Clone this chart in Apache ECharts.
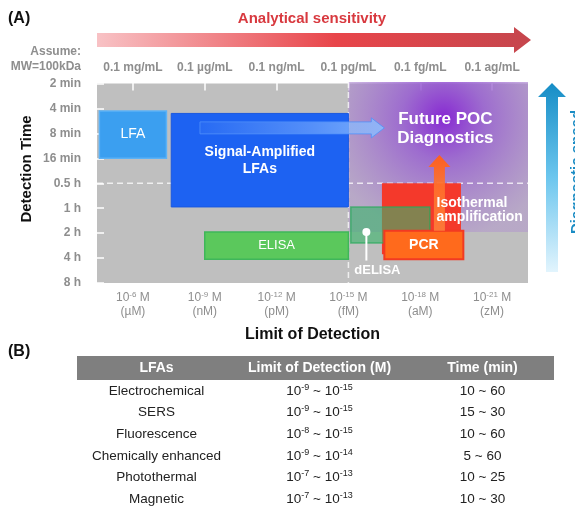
<!DOCTYPE html>
<html>
<head>
<meta charset="utf-8">
<script src="https://cdn.jsdelivr.net/npm/echarts@6/dist/echarts.min.js"></script>
<style>
  html, body { margin: 0; padding: 0; background: #fff; }
  #main { width: 575px; height: 510px; }
</style>
</head>
<body>
<div id="main"></div>
<script>
// x = limit of detection as -log10(M), y = detection time step (0 = 2 min ... 8 = 8 h)
var lodTicks = [6, 9, 12, 15, 18, 21];
var lodUnits = ['µM', 'nM', 'pM', 'fM', 'aM', 'zM'];
var massLabels = ['0.1 mg/mL', '0.1 µg/mL', '0.1 ng/mL', '0.1 pg/mL', '0.1 fg/mL', '0.1 ag/mL'];
var timeLabels = ['2 min', '4 min', '8 min', '16 min', '0.5 h', '1 h', '2 h', '4 h', '8 h'];

var methods  = ['LFA', 'Signal-Amplified LFAs', 'ELISA', 'Isothermal amplification', 'dELISA', 'PCR'];
var lodFrom  = [4.6, 7.6, 9.0, 16.4, 15.1, 16.5];
var lodTo    = [7.4, 15.0, 15.0, 19.7, 18.4, 19.8];
var timeFrom = [1.1, 1.2, 5.95, 4.0, 4.95, 5.9];
var timeTo   = [3.0, 4.95, 7.05, 6.85, 6.4, 7.05];

// future POC zone, guide lines and trend arrows
var pocLod = [15, 22.5];
var pocTime = [0, 5.95];
var guideLod = 15;
var guideTime = 4;
var ampArrowLod = [8.8, 16.5];
var ampArrowTime = 1.78;
var isoArrowLod = 18.8;
var isoArrowTime = [5.9, 2.87];
var delisaPin = [15.75, 5.95, 7.1];

// table (B)
var tableHeader = ['LFAs', 'Limit of Detection (M)', 'Time (min)'];
var lfaTypes = ['Electrochemical', 'SERS', 'Fluorescence', 'Chemically enhanced', 'Photothermal', 'Magnetic'];
var lodHigh = [9, 9, 8, 9, 7, 7];
var lodLow  = [15, 15, 15, 14, 13, 13];
var timeMin = [10, 15, 10, 5, 10, 10];
var timeMax = [60, 30, 60, 60, 25, 30];

var FONT = '"Liberation Sans", Arial, sans-serif';
var GREY = '#8e8e8e';

// 方框样式
var boxStyle = {
  'LFA': { fill: '#3b9ff0', stroke: '#5cb2f6', lw: 1.5, text: 'LFA', weight: 'normal', size: 14 },
  'Signal-Amplified LFAs': { fill: '#1d62f2', stroke: '#1a58e0', lw: 1, text: 'Signal-Amplified\nLFAs', weight: 'bold', size: 14 },
  'ELISA': { fill: '#5bc85c', stroke: '#3fb65a', lw: 1.5, text: 'ELISA', weight: 'normal', size: 13 },
  'Isothermal amplification': { fill: '#f4392b', stroke: null, lw: 0, text: '', weight: 'bold', size: 14 },
  'dELISA': { fill: 'rgba(55,180,105,0.6)', stroke: 'rgba(40,170,90,0.7)', lw: 1.5, text: '', weight: 'bold', size: 13 },
  'PCR': { fill: '#ff6a1c', stroke: '#f23a22', lw: 2, text: 'PCR', weight: 'bold', size: 14 }
};

function renderBox(params, api) {
  var name = methods[params.dataIndex];
  var st = boxStyle[name];
  var p0 = api.coord([api.value(0), api.value(2)]);
  var p1 = api.coord([api.value(1), api.value(3)]);
  var kids = [{
    type: 'rect',
    shape: { x: p0[0], y: p0[1], width: p1[0] - p0[0], height: p1[1] - p0[1] },
    style: { fill: st.fill, stroke: st.stroke, lineWidth: st.lw }
  }];
  if (st.text) {
    kids.push({
      type: 'text', x: (p0[0] + p1[0]) / 2, y: (p0[1] + p1[1]) / 2,
      style: { text: st.text, fill: '#fff', fontSize: st.size, fontWeight: st.weight, fontFamily: FONT,
               align: 'center', verticalAlign: 'middle', lineHeight: 17 }
    });
  }
  return { type: 'group', children: kids };
}

function renderPoc(params, api) {
  var p0 = api.coord([pocLod[0], pocTime[0]]);
  var p1 = api.coord([pocLod[1], pocTime[1]]);
  return {
    type: 'rect',
    shape: { x: p0[0], y: p0[1] - 1.5, width: p1[0] - p0[0], height: p1[1] - p0[1] + 1.5 },
    style: {
      fill: {
        type: 'radial', x: 0.53, y: 0.24, r: 0.8,
        colorStops: [
          { offset: 0, color: 'rgba(135,40,210,1)' },
          { offset: 0.35, color: 'rgba(150,90,210,0.82)' },
          { offset: 1, color: 'rgba(178,150,205,0.55)' }
        ]
      }
    }
  };
}

function renderGuides(params, api) {
  var a = api.coord([guideLod, 0]), b = api.coord([guideLod, 8]);
  var c = api.coord([4.5, guideTime]), d = api.coord([22.5, guideTime]);
  var ls = { stroke: 'rgba(255,255,255,0.75)', lineWidth: 1.5, lineDash: [6, 4] };
  return { type: 'group', children: [
    { type: 'line', shape: { x1: a[0], y1: a[1] - 1.5, x2: b[0], y2: b[1] }, style: ls },
    { type: 'line', shape: { x1: c[0], y1: c[1], x2: d[0], y2: d[1] }, style: ls }
  ] };
}

function renderArrows(params, api) {
  // signal amplification arrow (horizontal)
  var s = api.coord([ampArrowLod[0], ampArrowTime]);
  var e = api.coord([ampArrowLod[1], ampArrowTime]);
  var hb = 6, hh = 10, hl = 13;
  var h1 = [
    [s[0], s[1] - hb], [e[0] - hl, e[1] - hb], [e[0] - hl, e[1] - hh], [e[0], e[1]],
    [e[0] - hl, e[1] + hh], [e[0] - hl, e[1] + hb], [s[0], s[1] + hb]
  ];
  // isothermal arrow (vertical)
  var b = api.coord([isoArrowLod, isoArrowTime[0]]);
  var t = api.coord([isoArrowLod, isoArrowTime[1]]);
  var vb = 5.5, vh = 11, vl = 12;
  var h2 = [
    [b[0] - vb, b[1]], [t[0] - vb, t[1] + vl], [t[0] - vh, t[1] + vl], [t[0], t[1]],
    [t[0] + vh, t[1] + vl], [t[0] + vb, t[1] + vl], [b[0] + vb, b[1]]
  ];
  return { type: 'group', children: [
    { type: 'polygon', shape: { points: h1 },
      style: { fill: new echarts.graphic.LinearGradient(0, 0, 1, 0, [
                 { offset: 0, color: 'rgba(130,180,255,0.1)' },
                 { offset: 0.6, color: 'rgba(130,180,255,0.55)' },
                 { offset: 1, color: 'rgba(140,190,255,0.85)' }]),
               stroke: 'rgba(80,145,250,0.8)', lineWidth: 1 } },
    { type: 'polygon', shape: { points: h2 },
      style: { fill: new echarts.graphic.LinearGradient(0, 0, 0, 1, [
                 { offset: 0, color: 'rgba(255,95,30,1)' },
                 { offset: 1, color: 'rgba(255,140,60,0.75)' }]) } }
  ] };
}

function renderNotes(params, api) {
  var poc = api.coord([19.05, 1.82]);
  var iso = api.coord([18.68, 5.07]);
  var pinTop = api.coord([delisaPin[0], delisaPin[1]]);
  var pinBot = api.coord([delisaPin[0], delisaPin[2]]);
  var white = '#fff';
  return { type: 'group', children: [
    { type: 'text', x: poc[0], y: poc[1],
      style: { text: 'Future POC\nDiagnostics', fill: white, fontSize: 17, fontWeight: 'bold', fontFamily: FONT,
               align: 'center', verticalAlign: 'middle', lineHeight: 19 } },
    { type: 'text', x: iso[0], y: iso[1],
      style: { text: 'Isothermal\namplification', fill: white, fontSize: 14, fontWeight: 'bold', fontFamily: FONT,
               align: 'left', verticalAlign: 'middle', lineHeight: 14 } },
    { type: 'line', shape: { x1: pinTop[0], y1: pinTop[1], x2: pinBot[0], y2: pinBot[1] },
      style: { stroke: white, lineWidth: 2 } },
    { type: 'circle', shape: { cx: pinTop[0], cy: pinTop[1], r: 4 }, style: { fill: white } },
    { type: 'text', x: pinBot[0] + 11, y: pinBot[1] + 10,
      style: { text: 'dELISA', fill: white, fontSize: 13, fontWeight: 'bold', fontFamily: FONT,
               align: 'center', verticalAlign: 'middle' } }
  ] };
}

function supText(base, exp) {
  return '{n|' + base + '}{s|-' + exp + '}';
}

function renderCell(params, api) {
  var c = api.value(0), r = api.value(1);
  var p = api.coord([c, r]);
  var txt;
  if (c === 0) txt = '{n|' + lfaTypes[r] + '}';
  else if (c === 1) txt = supText(10, lodHigh[r]) + '{n| ~ }' + supText(10, lodLow[r]);
  else txt = '{n|' + timeMin[r] + ' ~ ' + timeMax[r] + '}';
  return {
    type: 'text', x: p[0], y: p[1],
    style: {
      text: txt, align: 'center', verticalAlign: 'middle',
      rich: {
        n: { fontSize: 13.5, fill: '#222', fontFamily: FONT, lineHeight: 16 },
        s: { fontSize: 9, fill: '#222', fontFamily: FONT, lineHeight: 10, verticalAlign: 'top' }
      }
    }
  };
}

var boxData = methods.map(function (m, i) { return [lodFrom[i], lodTo[i], timeFrom[i], timeTo[i]]; });
var cellData = [];
lfaTypes.forEach(function (t, r) { for (var c = 0; c < 3; c++) cellData.push([c, r]); });

var chart = echarts.init(document.getElementById('main'), null, { renderer: 'canvas' });

var tickStyle = { show: true, inside: true, length: 7, lineStyle: { color: '#fff', width: 1.5 } };

var option = {
  animation: false,
  textStyle: { fontFamily: FONT },
  grid: [
    { left: 97, top: 83.5, width: 431, height: 199.5, show: true, backgroundColor: '#bfbfbf', borderWidth: 0 },
    { left: 75, top: 380, width: 489, height: 134, show: false }
  ],
  xAxis: [
    {
      type: 'value', gridIndex: 0, position: 'bottom', min: 4.5, max: 22.5,
      splitLine: { show: false }, axisLine: { show: false },
      axisTick: Object.assign({ customValues: lodTicks }, tickStyle),
      axisLabel: {
        customValues: lodTicks, margin: 8,
        formatter: function (v) {
          return '{n|10}{s|-' + v + '}{n| M}\n{n|(' + lodUnits[lodTicks.indexOf(v)] + ')}';
        },
        rich: {
          n: { fontSize: 12, color: GREY, lineHeight: 14 },
          s: { fontSize: 8, color: GREY, lineHeight: 9, verticalAlign: 'top' }
        }
      },
      name: 'Limit of Detection', nameLocation: 'middle', nameGap: 44,
      nameTextStyle: { fontSize: 16, fontWeight: 'bold', color: '#111' }
    },
    {
      type: 'value', gridIndex: 0, position: 'top', min: 4.5, max: 22.5,
      splitLine: { show: false }, axisLine: { show: false },
      axisTick: Object.assign({ customValues: lodTicks }, tickStyle),
      axisLabel: {
        customValues: lodTicks, margin: 10, fontSize: 12, fontWeight: 'bold', color: GREY,
        formatter: function (v) { return massLabels[lodTicks.indexOf(v)]; }
      }
    },
    {
      type: 'category', gridIndex: 1, position: 'top', data: tableHeader, z: 10,
      axisLine: { show: false }, axisTick: { show: false },
      axisLabel: { interval: 0, margin: 5, fontSize: 14, fontWeight: 'bold', color: '#fff' }
    }
  ],
  yAxis: [
    {
      type: 'value', gridIndex: 0, min: 0, max: 8, interval: 1, inverse: true,
      splitLine: { show: false }, axisLine: { show: false },
      axisTick: tickStyle,
      axisLabel: {
        margin: 16, fontSize: 12, fontWeight: 'bold', color: GREY,
        formatter: function (v) { return timeLabels[v]; }
      }
    },
    { type: 'category', gridIndex: 1, data: lfaTypes, inverse: true, show: false }
  ],
  graphic: [
    { type: 'text', left: 8, top: 11, style: { text: '(A)', fontSize: 16, fontWeight: 'bold', fill: '#111', fontFamily: FONT } },
    { type: 'text', left: 8, top: 344, style: { text: '(B)', fontSize: 16, fontWeight: 'bold', fill: '#111', fontFamily: FONT } },
    { type: 'text', x: 312, y: 19,
      style: { text: 'Analytical sensitivity', fontSize: 15, fontWeight: 'bold', fill: '#d8393f', fontFamily: FONT,
               align: 'center', verticalAlign: 'middle' } },
    { type: 'polygon', shape: { points: [[97, 33], [514, 33], [514, 27], [531, 40], [514, 53], [514, 47], [97, 47]] },
      style: { fill: new echarts.graphic.LinearGradient(0, 0, 1, 0, [
        { offset: 0, color: '#f8c2c5' }, { offset: 0.55, color: '#e8454a' }, { offset: 1, color: '#c5464d' }]) } },
    { type: 'text', x: 81, y: 52,
      style: { text: 'Assume:', fontSize: 12, fontWeight: 'bold', fill: GREY, fontFamily: FONT, align: 'right', verticalAlign: 'middle' } },
    { type: 'text', x: 81, y: 67,
      style: { text: 'MW=100kDa', fontSize: 12, fontWeight: 'bold', fill: GREY, fontFamily: FONT, align: 'right', verticalAlign: 'middle' } },
    { type: 'text', x: 27, y: 169, rotation: Math.PI / 2,
      style: { text: 'Detection Time', fontSize: 15, fontWeight: 'bold', fill: '#111', fontFamily: FONT, align: 'center', verticalAlign: 'middle' } },
    { type: 'polygon', shape: { points: [[546, 272], [546, 97], [538, 97], [552, 83], [566, 97], [558, 97], [558, 272]] },
      style: { fill: new echarts.graphic.LinearGradient(0, 0, 0, 1, [
        { offset: 0, color: '#168dc6' }, { offset: 0.5, color: '#6cc6ee' }, { offset: 1, color: '#e2f4fd' }]) } },
    { type: 'text', x: 577, y: 172, rotation: Math.PI / 2,
      style: { text: 'Diagnostic speed', fontSize: 15, fontWeight: 'bold', fill: '#1a8cc4', fontFamily: FONT, align: 'center', verticalAlign: 'middle' } },
    { type: 'rect', z: -1, shape: { x: 77, y: 356, width: 477, height: 24 }, style: { fill: '#7f7f7f' } }
  ],
  series: [
    { type: 'custom', name: 'poc', xAxisIndex: 0, yAxisIndex: 0, z: 1, silent: true, data: [[0]], renderItem: renderPoc },
    { type: 'custom', name: 'guides', xAxisIndex: 0, yAxisIndex: 0, z: 2, silent: true, data: [[0]], renderItem: renderGuides },
    { type: 'custom', name: 'methods', xAxisIndex: 0, yAxisIndex: 0, z: 3, silent: true,
      encode: { x: [0, 1], y: [2, 3] }, data: boxData, renderItem: renderBox },
    { type: 'custom', name: 'arrows', xAxisIndex: 0, yAxisIndex: 0, z: 4, silent: true, data: [[0]], renderItem: renderArrows },
    { type: 'custom', name: 'notes', xAxisIndex: 0, yAxisIndex: 0, z: 6, silent: true, data: [[0]], renderItem: renderNotes },
    { type: 'custom', name: 'table', xAxisIndex: 2, yAxisIndex: 1, z: 5, silent: true, data: cellData, renderItem: renderCell }
  ]
};

chart.setOption(option);
</script>
</body>
</html>
